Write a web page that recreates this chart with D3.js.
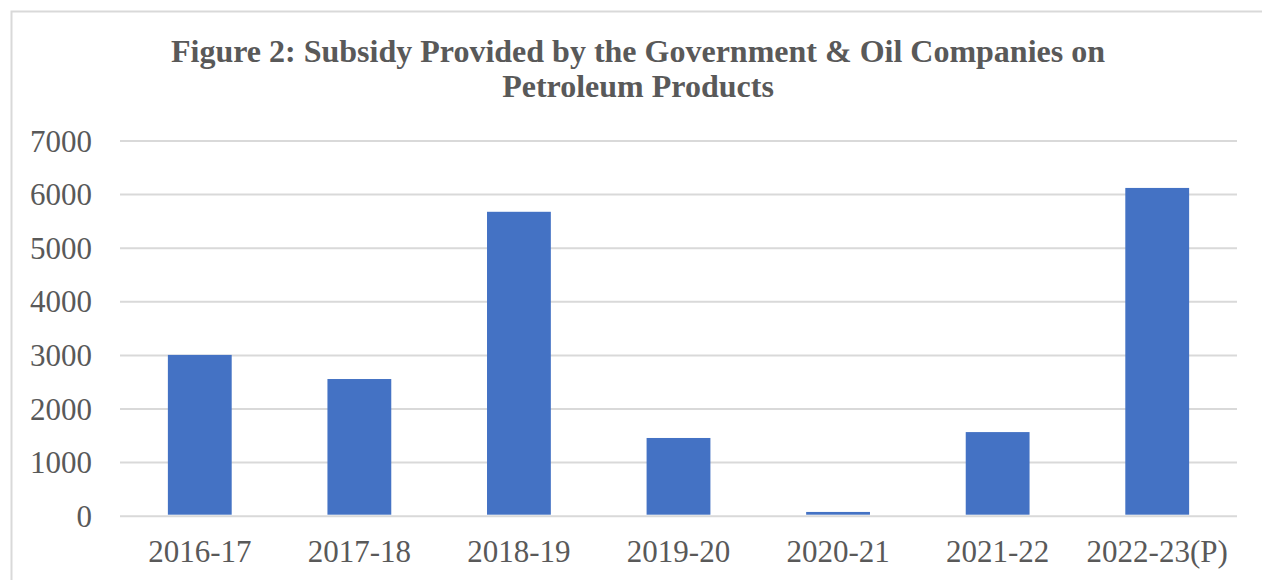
<!DOCTYPE html>
<html>
<head>
<meta charset="utf-8">
<script src="https://cdn.jsdelivr.net/npm/d3@7"></script>
<style>
    body { margin: 0; background: #fff; }
    svg text { font-family: "Liberation Serif", "Times New Roman", serif; fill: #595959; }
</style>
</head>
<body>
<svg id="chart"></svg>
<script>
// values
var years = ["2016-17", "2017-18", "2018-19", "2019-20", "2020-21", "2021-22", "2022-23(P)"];
var subsidy = [3000, 2550, 5670, 1450, 70, 1560, 6115];
var yTicks = [0, 1000, 2000, 3000, 4000, 5000, 6000, 7000];
var titleLines = ["Figure 2: Subsidy Provided by the Government & Oil Companies on", "Petroleum Products"];

var width = 1262,
    height = 580

var plot = {left: 120, right: 1237, top: 140.5, bottom: 515.7};

var svg = d3.select("svg#chart")
    .attr("width", width)
    .attr("height", height);

// chart frame (runs off the right/bottom edge like the crop)
svg.append("rect")
    .attr("x", 11.5)
    .attr("y", 11.5)
    .attr("width", width)
    .attr("height", height)
    .attr("fill", "none")
    .attr("stroke", "#d9d9d9")
    .attr("stroke-width", 2);

var x = d3.scaleBand()
    .domain(years)
    .range([plot.left, plot.right])
    .paddingInner(0.6)
    .paddingOuter(0.3);

var y = d3.scaleLinear()
    .domain([0, 7000])
    .range([plot.bottom, plot.top]);

// gridlines + y labels
var yAxis = svg.append("g")
    .attr("transform", "translate(" + plot.left + ",0)")
    .call(d3.axisLeft(y)
        .tickValues(yTicks)
        .tickSize(-(plot.right - plot.left))
        .tickPadding(28)
        .tickFormat(d3.format("d")));

yAxis.select(".domain").remove();
yAxis.selectAll(".tick line")
    .attr("stroke", "#d9d9d9")
    .attr("stroke-width", 2);
yAxis.selectAll(".tick text")
    .attr("font-size", 31)
    .attr("dy", "0.34em");

// bars
svg.append("g")
    .selectAll("rect")
    .data(subsidy)
    .enter()
    .append("rect")
    .attr("x", function(d, i) { return x(years[i]); })
    .attr("width", x.bandwidth())
    .attr("y", function(d) { return y(d); })
    .attr("height", function(d) { return y(0) - y(d) - 1; })
    .attr("fill", "#4472c4");

// x labels
var xAxis = svg.append("g")
    .attr("transform", "translate(0," + plot.bottom + ")")
    .call(d3.axisBottom(x).tickSize(0).tickPadding(24));

xAxis.select(".domain").remove();
xAxis.selectAll(".tick text")
    .attr("font-size", 31)
    .attr("dy", "0.71em");

// title
svg.append("g")
    .selectAll("text")
    .data(titleLines)
    .enter()
    .append("text")
    .attr("x", 638)
    .attr("y", function(d, i) { return 62 + i * 35; })
    .attr("text-anchor", "middle")
    .attr("font-size", 32)
    .attr("font-weight", "bold")
    .text(function(d) { return d; });
</script>
</body>
</html>
